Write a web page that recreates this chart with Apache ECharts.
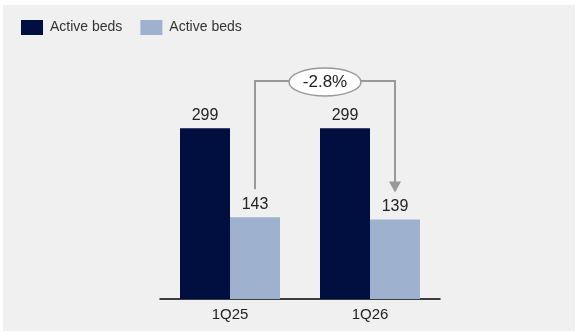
<!DOCTYPE html>
<html><head><meta charset="utf-8">
<script src="https://cdn.jsdelivr.net/npm/echarts@6/dist/echarts.min.js"></script>
<style>
html,body{margin:0;padding:0;background:#ffffff;}
#wrap{position:absolute;left:3px;top:5px;width:572px;height:326px;background:#f0f0f0;}
#c{position:absolute;left:-3px;top:-5px;width:578px;height:334px;}
</style></head>
<body><div id="wrap"><div id="c"></div></div>
<script>
const categories = ['1Q25', '1Q26'];
const seriesNames = ['Active beds', 'Active beds'];
const darkValues = [299, 299];
const lightValues = [143, 139];
const changeLabel = '-2.8%';

const chart = echarts.init(document.getElementById('c'), null, {renderer: 'canvas'});
const font = 'Liberation Sans';
const option = {
  backgroundColor: 'transparent',
  animation: false,
  textStyle: {fontFamily: font},
  legend: {
    left: 21, top: 20, padding: 0, itemWidth: 22, itemHeight: 15, itemGap: 18,
    icon: 'rect',
    textStyle: {fontSize: 14, color: '#333', fontFamily: font, padding: [0, 0, 0, 2]},
    data: [
      {name: 'dark', itemStyle: {color: '#000f3f'}},
      {name: 'light', itemStyle: {color: '#9eb1cf'}}
    ],
    formatter: function (n) { return n === 'dark' ? seriesNames[0] : seriesNames[1]; }
  },
  grid: {left: 160, right: 138, top: 99, bottom: 35},
  xAxis: {
    type: 'category', data: categories,
    axisLine: {lineStyle: {color: '#000', width: 1.5}},
    axisTick: {show: false},
    axisLabel: {fontSize: 15, color: '#222', margin: 8, fontFamily: font}
  },
  yAxis: {type: 'value', min: 0, max: 350, show: false, splitLine: {show: false}},
  series: [
    {name: 'dark', type: 'bar', data: darkValues, barWidth: 50, barGap: '0%',
     itemStyle: {color: '#000f3f'},
     label: {show: true, position: 'top', fontSize: 16, color: '#222', distance: 5, fontFamily: font}},
    {name: 'light', type: 'bar', data: lightValues, barWidth: 50,
     itemStyle: {color: '#9eb1cf'},
     label: {show: true, position: 'top', fontSize: 16, color: '#222', distance: 5, fontFamily: font}}
  ]
};
chart.setOption(option);

// annotation built from axis positions
const p0 = chart.convertToPixel({gridIndex: 0}, [0, lightValues[0]]);
const p1 = chart.convertToPixel({gridIndex: 0}, [1, lightValues[1]]);
const x0 = p0[0] + 25, x1 = p1[0] + 25;
const yTop = 81;
const yStart = p0[1] - 28;
const yEnd = p1[1] - 27;
const cx = (x0 + x1) / 2;
chart.setOption({
  graphic: [
    {type: 'polyline', shape: {points: [[x0, yStart], [x0, yTop], [x1, yTop], [x1, yEnd - 10]]},
     style: {stroke: '#999', lineWidth: 2, fill: null}, z: 10},
    {type: 'polygon', shape: {points: [[x1 - 6, yEnd - 11], [x1 + 6, yEnd - 11], [x1, yEnd]]},
     style: {fill: '#999'}, z: 10},
    {type: 'ellipse', shape: {cx: cx, cy: yTop + 1, rx: 36, ry: 14},
     style: {fill: '#fff', stroke: '#999', lineWidth: 1.5}, z: 11},
    {type: 'text', x: cx, y: yTop + 1, z: 12,
     style: {text: changeLabel, fontSize: 17, fill: '#222', align: 'center', verticalAlign: 'middle', fontFamily: font}}
  ]
});
</script></body></html>
